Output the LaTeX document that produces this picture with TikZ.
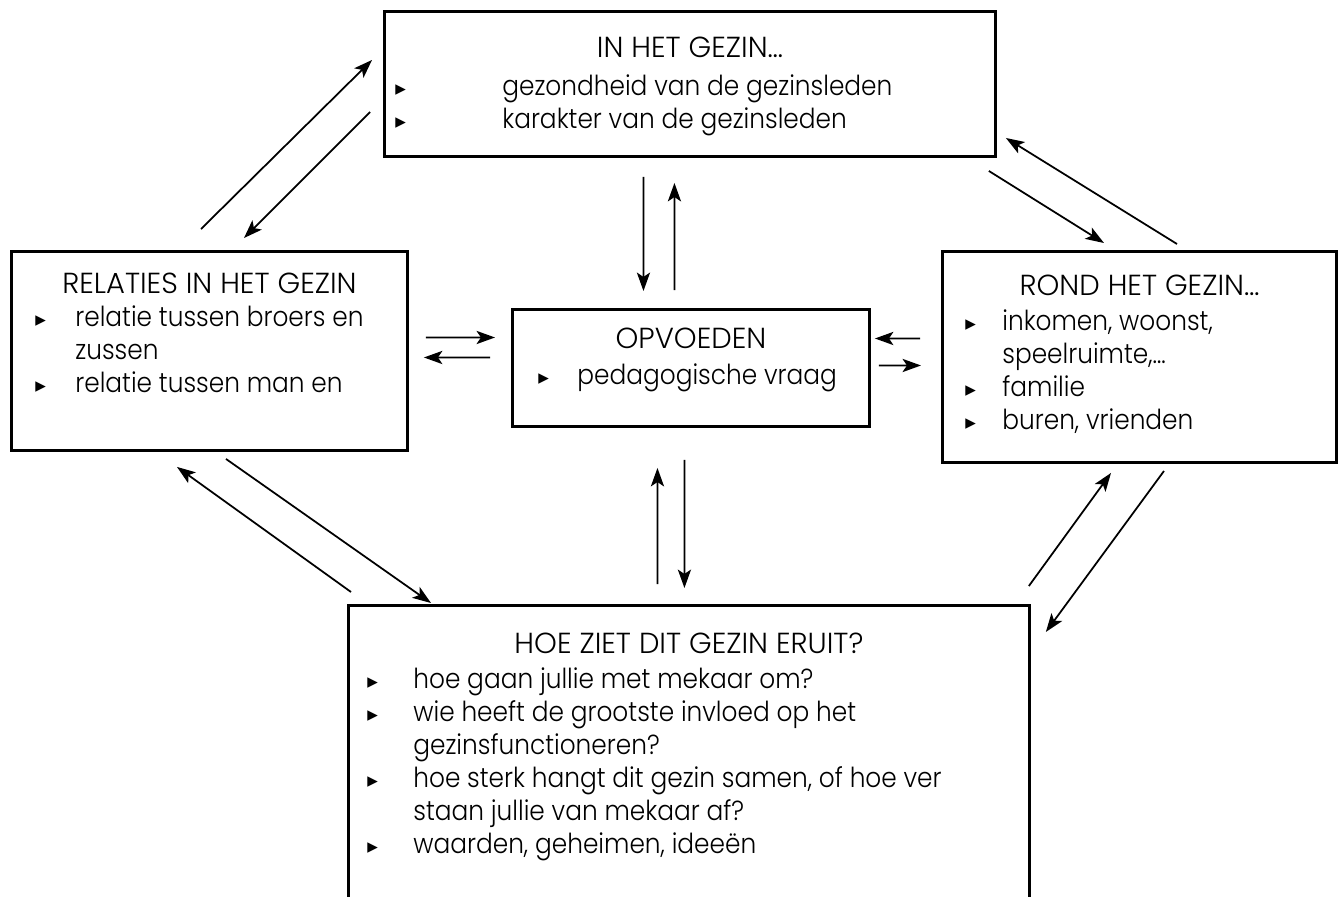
\documentclass[tikz,border=0pt]{standalone}
\usepackage{fontspec}
\IfFontExistsTF{Poppins Light}{%
	\setmainfont[FakeStretch=0.9]{Poppins Light}
	\newfontfamily\kopfont{Poppins Light}}{%
	\setmainfont[FakeStretch=0.9]{Poppins}
	\newfontfamily\kopfont{Poppins}}
\newfontfamily\bolfont{DejaVu Sans}
\usetikzlibrary{arrows.meta}
\newcommand{\bol}{{\bolfont\fontsize{12pt}{12pt}\selectfont ▸}}
\newcommand{\lijst}[2]{\begin{tabular}[t]{@{}p{#1}@{}l@{}}#2\end{tabular}}
\begin{document}
\begin{tikzpicture}[x=0.02cm,y=-0.02cm,>={Stealth[length=10.5pt,width=7.5pt,inset=2.5pt]},
	font=\fontsize{15.7pt}{18.8pt}\selectfont,
	kader/.style={draw,line width=1.7pt,inner sep=0pt,anchor=north west},
	pijl/.style={->,line width=1pt},
	kop/.style={anchor=base,inner sep=0pt,font=\kopfont\fontsize{16.5pt}{18.8pt}\selectfont},
	items/.style={anchor=base west,inner sep=0pt}]
	\useasboundingbox (0,0) rectangle (1341,896);
	\clip (0,0) rectangle (1341,896);
	% vakken
	\node[kader,minimum width=12.22cm,minimum height=2.9cm] (gezin) at (383,10) {};
	\node[kader,minimum width=7.92cm,minimum height=3.98cm] (relaties) at (10,250) {};
	\node[kader,minimum width=7.14cm,minimum height=2.34cm] (opvoeden) at (511,308) {};
	\node[kader,minimum width=7.88cm,minimum height=4.22cm] (rond) at (941,250) {};
	\node[kader,minimum width=13.62cm,minimum height=6.6cm] (hoe) at (347,604) {};
	% teksten
	\node[kop] (gezin-t) at ([shift={(0,47)}]gezin.north) {IN HET GEZIN…};
	\node[items] (gezin-l) at ([shift={(12,85)}]gezin.north west)
		{\lijst{2.14cm}{\bol & gezondheid van de gezinsleden\\ \bol & karakter van de gezinsleden}};
	\node[kop] (relaties-t) at ([shift={(0,43)}]relaties.north) {RELATIES IN HET GEZIN};
	\node[items] (relaties-l) at ([shift={(25,76)}]relaties.north west)
		{\lijst{0.8cm}{\bol & relatie tussen broers en\\ & zussen\\ \bol & relatie tussen man en}};
	\node[kop] (opvoeden-t) at ([shift={(0,40)}]opvoeden.north) {OPVOEDEN};
	\node[items] (opvoeden-l) at ([shift={(27,76)}]opvoeden.north west)
		{\lijst{0.78cm}{\bol & pedagogische vraag}};
	\node[kop] (rond-t) at ([shift={(0,45)}]rond.north) {ROND HET GEZIN…};
	\node[items] (rond-l) at ([shift={(24,80)}]rond.north west)
		{\lijst{0.74cm}{\bol & inkomen, woonst,\\ & speelruimte,…\\ \bol & familie\\ \bol & buren, vrienden}};
	\node[kop] (hoe-t) at ([shift={(0,49)}]hoe.north) {HOE ZIET DIT GEZIN ERUIT?};
	\node[items] (hoe-l) at ([shift={(20,84)}]hoe.north west)
		{\lijst{0.92cm}{\bol & hoe gaan jullie met mekaar om?\\ \bol & wie heeft de grootste invloed op het\\ & gezinsfunctioneren?\\ \bol & hoe sterk hangt dit gezin samen, of hoe ver\\ & staan jullie van mekaar af?\\ \bol & waarden, geheimen, ideeën}};
	% pijlen
	\draw[pijl] ([shift={(191,-21)}]relaties.north west) -- ([shift={(-11,50)}]gezin.north west);
	\draw[pijl] ([shift={(-13,102)}]gezin.north west) -- ([shift={(234,-12)}]relaties.north west);
	\draw[pijl] ([shift={(-8,13)}]gezin.south east) -- ([shift={(163,-7)}]rond.north west);
	\draw[pijl] ([shift={(236,-6)}]rond.north west) -- ([shift={(9,-20)}]gezin.south east);
	\draw[pijl] ([shift={(-46.5,19)}]gezin.south) -- ([shift={(-47.5,-17)}]opvoeden.north);
	\draw[pijl] ([shift={(-16.5,-18)}]opvoeden.north) -- ([shift={(-15.5,25)}]gezin.south);
	\draw[pijl] ([shift={(17,-13.5)}]relaties.east) -- ([shift={(-16,-30.5)}]opvoeden.west);
	\draw[pijl] ([shift={(-21,-10.5)}]opvoeden.west) -- ([shift={(15,6.5)}]relaties.east);
	\draw[pijl] ([shift={(-21,-18.5)}]rond.west) -- ([shift={(4,-29.5)}]opvoeden.east);
	\draw[pijl] ([shift={(8,-2.5)}]opvoeden.east) -- ([shift={(-20,8.5)}]rond.west);
	\draw[pijl] ([shift={(-31.5,-20)}]hoe.north) -- ([shift={(-33.5,40)}]opvoeden.south);
	\draw[pijl] ([shift={(-6.5,32)}]opvoeden.south) -- ([shift={(-4.5,-16)}]hoe.north);
	\draw[pijl] ([shift={(4,-12)}]hoe.north west) -- ([shift={(167,15)}]relaties.south west);
	\draw[pijl] ([shift={(216,7)}]relaties.south west) -- ([shift={(84,-1)}]hoe.north west);
	\draw[pijl] ([shift={(-2,-18)}]hoe.north east) -- ([shift={(170,9)}]rond.south west);
	\draw[pijl] ([shift={(223,7)}]rond.south west) -- ([shift={(15,28)}]hoe.north east);
\end{tikzpicture}
\end{document}
